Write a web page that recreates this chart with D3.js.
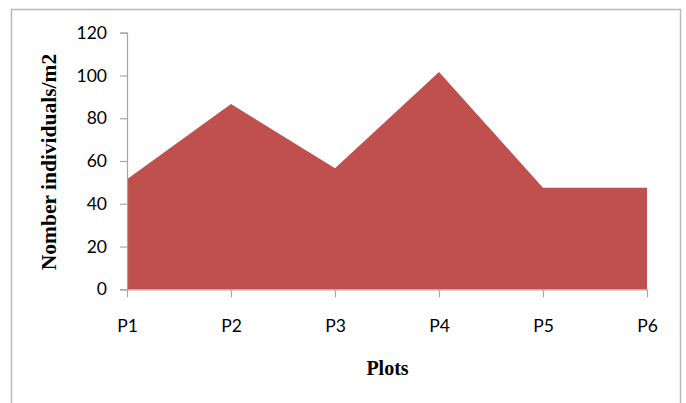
<!DOCTYPE html>
<html>
<head>
<meta charset="utf-8">
<script src="https://cdn.jsdelivr.net/npm/d3@7"></script>
<style>
  html, body { margin: 0; padding: 0; background: #fff; }
  svg { display: block; }
</style>
</head>
<body>
<svg id="chart" width="686" height="403"></svg>
<script>
// Plot categories and density values (individuals per m2)
const plots = ["P1", "P2", "P3", "P4", "P5", "P6"];
const density = [51.5, 86.7, 56.6, 101.6, 47.5, 47.5];
const yTicks = [0, 20, 40, 60, 80, 100, 120];

const svg = d3.select("#chart");
const W = 686, H = 403;
const margin = { left: 127, right: 39, top: 33, bottom: 113 };

// outer chart frame
svg.append("rect")
  .attr("x", 11.5).attr("y", 9.5)
  .attr("width", 669).attr("height", 420)
  .attr("fill", "none").attr("stroke", "#b8b8b8").attr("stroke-width", 1.5);

const x = d3.scalePoint().domain(plots).range([margin.left, W - margin.right]);
const y = d3.scaleLinear().domain([0, 120]).range([H - margin.bottom - 0.7, margin.top - 0.3]);

const data = plots.map((p, i) => ({ p, v: density[i] }));

// filled area
const area = d3.area()
  .x(d => x(d.p))
  .y0(y(0))
  .y1(d => y(d.v));

svg.append("path")
  .datum(data)
  .attr("d", area)
  .attr("fill", "#C0504D");

const tickFont = "Lato, 'Open Sans', sans-serif";

// y axis
const yAxis = svg.append("g")
  .attr("transform", `translate(${margin.left},0)`)
  .call(d3.axisLeft(y).tickValues(yTicks).tickSize(7).tickPadding(13).tickFormat(d3.format("d")));
yAxis.selectAll("path, line").attr("stroke", "#a6a6a6").attr("stroke-width", 1.2);
yAxis.selectAll("text")
  .attr("font-family", tickFont).attr("font-size", 17.5).attr("fill", "#000");

// x axis
const xAxis = svg.append("g")
  .attr("transform", `translate(0,${y(0)})`)
  .call(d3.axisBottom(x).tickSize(8).tickPadding(22).tickSizeOuter(0));
xAxis.selectAll("path, line").attr("stroke", "#a6a6a6").attr("stroke-width", 1.2);
xAxis.selectAll("text")
  .attr("font-family", tickFont).attr("font-size", 17.5).attr("fill", "#000");

// axis titles
svg.append("text")
  .attr("x", 387.5).attr("y", 375)
  .attr("text-anchor", "middle")
  .attr("font-family", "'Liberation Serif', 'Times New Roman', serif")
  .attr("font-weight", "bold").attr("font-size", 20)
  .text("Plots");

svg.append("text")
  .attr("transform", "translate(56,162) rotate(-90)")
  .attr("text-anchor", "middle")
  .attr("font-family", "'Liberation Serif', 'Times New Roman', serif")
  .attr("font-weight", "bold").attr("font-size", 21.5)
  .text("Nomber individuals/m2");
</script>
</body>
</html>
